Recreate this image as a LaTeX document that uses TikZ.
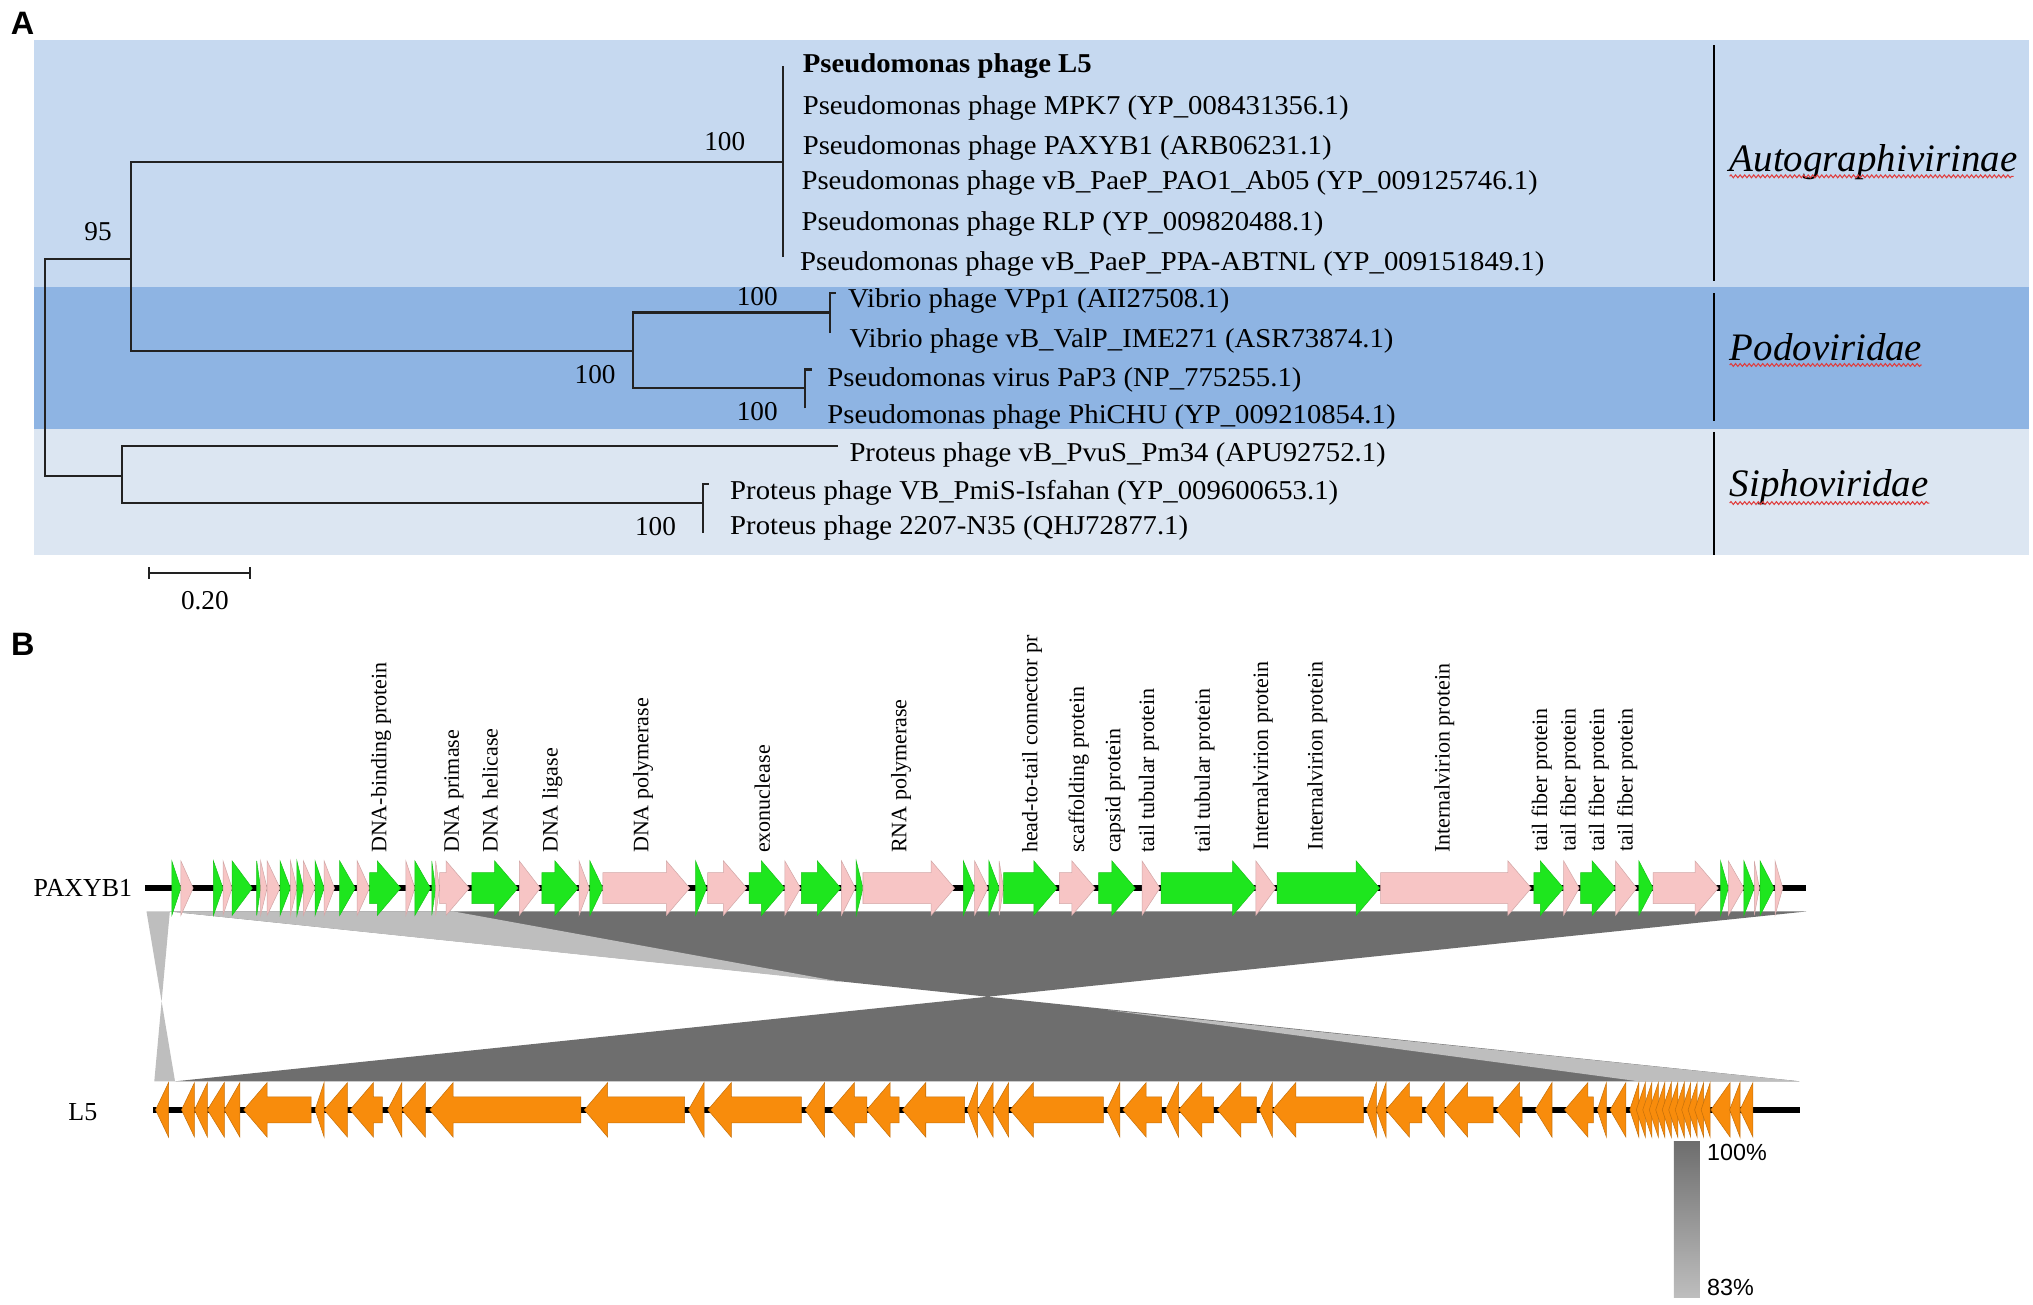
\documentclass[tikz,border=0pt]{standalone}
\usepackage{fontspec}
\setmainfont{Liberation Serif}
\newfontfamily\arialf{Liberation Sans}
\newfontfamily\treefont[FakeStretch=1.055]{Liberation Serif}
\usetikzlibrary{decorations.pathmorphing}
\definecolor{bandA}{HTML}{C6D9F0}
\definecolor{bandP}{HTML}{8EB4E3}
\definecolor{bandS}{HTML}{DCE6F2}
\definecolor{gG}{HTML}{1EE61E}
\definecolor{gP}{HTML}{F7C5C5}
\definecolor{gO}{HTML}{F88C0C}
\definecolor{simD}{HTML}{6E6E6E}
\definecolor{simL}{HTML}{BEBEBE}
\definecolor{squig}{HTML}{E03C3C}
\definecolor{treec}{HTML}{222222}
\newcommand{\pgene}[3]{%
  \pgfmathsetmacro{\gHB}{max(#1,#2-18)}%
  \filldraw[fill=#3, draw=#3!85!black, line width=0.4pt] (#1,673) -- (\gHB,673) -- (\gHB,664) -- (#2,685) -- (\gHB,706) -- (\gHB,697) -- (#1,697) -- cycle;}
\newcommand{\lgene}[2]{%
  \pgfmathsetmacro{\gHB}{min(#2,#1+18)}%
  \filldraw[fill=gO, draw=gO!80!black, line width=0.4pt] (#2,846) -- (\gHB,846) -- (\gHB,835) -- (#1,856) -- (\gHB,877) -- (\gHB,866) -- (#2,866) -- cycle;}
\tikzset{
  treelab/.style={anchor=base west, inner sep=0pt, font=\treefont\fontsize{21}{25}\selectfont},
  boot/.style={anchor=center, inner sep=0pt, font=\fontsize{21}{25}\selectfont},
  famlab/.style={anchor=base west, inner sep=0pt, font=\fontsize{30}{36}\selectfont\itshape},
  genelab/.style={rotate=90, anchor=west, inner sep=0pt, font=\fontsize{17}{20}\selectfont},
  tree/.style={draw=treec, line width=1.6pt},
  divider/.style={draw=black, line width=1.1pt},
  squiggle/.style={draw=squig, line width=0.8pt, decorate, decoration={snake, amplitude=1.1pt, segment length=3.5pt}},
  panlab/.style={anchor=center, inner sep=0pt, font=\arialf\bfseries\fontsize{25}{30}\selectfont},
  pct/.style={anchor=west, inner sep=0pt, font=\arialf\fontsize{18}{22}\selectfont}
}
\begin{document}
\begin{tikzpicture}[x=1pt,y=-1pt]
\useasboundingbox (0,0) rectangle (1568,1006);
\fill[white] (0,0) rectangle (1568,1006);
% ---------- Panel A ----------
\node[panlab] (labA) at (17.5,18) {A};
\fill[bandA] (26,31) rectangle (1565,221);
\fill[bandP] (26,221) rectangle (1565,331);
\fill[bandS] (26,331) rectangle (1565,428);
\draw[divider] (1322,35) -- (1322,217);
\draw[divider] (1322,226) -- (1322,325);
\draw[divider] (1322,333) -- (1322,428);
% tree coordinates
\coordinate (rt) at (35,200);
\coordinate (n1) at (101,200);
\coordinate (n2) at (604,125);
\coordinate (n2t) at (604,51);
\coordinate (n2b) at (604,198);
\coordinate (n3) at (488,271);
\coordinate (n4) at (640,241);
\coordinate (n4t) at (640,226);
\coordinate (n4b) at (640,257);
\coordinate (n5) at (621,299);
\coordinate (n5t) at (621,285);
\coordinate (n5b) at (621,315);
\coordinate (n6) at (94,367);
\coordinate (l13) at (646,344);
\coordinate (n7) at (542,388);
\coordinate (n7t) at (542,373);
\coordinate (n7b) at (542,411);
\draw[tree] (n2) -| (n1) |- (n3);
\draw[tree] (n1) -- (rt) |- (n6);
\draw[tree] (n2t) -- (n2b);
\draw[tree] (n4) -| (n3) |- (n5);
\draw[tree] (n4b) -- (n4t) -- ++(5,0);
\draw[tree] (n5b) -- (n5t) -- ++(5,0);
\draw[tree] (l13) -| (n6) |- (n7);
\draw[tree] (n7b) -- (n7t) -- ++(5,0);
% leaf labels
\node[treelab, font=\treefont\fontsize{21}{25}\selectfont\bfseries] (t1) at (619,56) {Pseudomonas phage L5};
\node[treelab] (t2) at (619,88) {Pseudomonas phage MPK7 (YP\_008431356.1)};
\node[treelab] (t3) at (619,119) {Pseudomonas phage PAXYB1 (ARB06231.1)};
\node[treelab] (t4) at (618,146) {Pseudomonas phage vB\_PaeP\_PAO1\_Ab05 (YP\_009125746.1)};
\node[treelab] (t5) at (618,178) {Pseudomonas phage RLP (YP\_009820488.1)};
\node[treelab] (t6) at (617,209) {Pseudomonas phage vB\_PaeP\_PPA-ABTNL (YP\_009151849.1)};
\node[treelab] (t7) at (654,237) {Vibrio phage VPp1 (AII27508.1)};
\node[treelab] (t8) at (655,268) {Vibrio phage vB\_ValP\_IME271 (ASR73874.1)};
\node[treelab] (t9) at (638,298) {Pseudomonas virus PaP3 (NP\_775255.1)};
\node[treelab] (t10) at (638,327) {Pseudomonas phage PhiCHU (YP\_009210854.1)};
\node[treelab] (t11) at (655,356) {Proteus phage vB\_PvuS\_Pm34 (APU92752.1)};
\node[treelab] (t12) at (563,385) {Proteus phage VB\_PmiS-Isfahan (YP\_009600653.1)};
\node[treelab] (t13) at (563,412) {Proteus phage 2207-N35 (QHJ72877.1)};
% bootstrap
\node[boot] (b1) at (559,109) {100};
\node[boot] (b2) at (75.6,179) {95};
\node[boot] (b3) at (584,228.8) {100};
\node[boot] (b4) at (459,289) {100};
\node[boot] (b5) at (584,317.5) {100};
\node[boot] (b6) at (505.6,406) {100};
% families
\node[famlab] (fA) at (1334,132.4) {Autographivirinae};
\node[famlab] (fP) at (1334,277.7) {Podoviridae};
\node[famlab] (fS) at (1334,383) {Siphoviridae};
\draw[squiggle] (1334,136) -- (1553,136);
\draw[squiggle] (1334,281.5) -- (1482,281.5);
\draw[squiggle] (1334,388) -- (1488,388);
% scale bar
\coordinate (sb1) at (115,442);
\coordinate (sb2) at (193,442);
\draw[treec, line width=1.4pt] (sb1) -- (sb2);
\draw[treec, line width=1.4pt] (115,437.5) -- (115,446.5);
\draw[treec, line width=1.4pt] (193,437.5) -- (193,446.5);
\node[boot] (sbl) at (158,463) {0.20};
% ---------- Panel B ----------
\node[panlab] (labB) at (17.7,497) {B};
% similarity
\fill[simL] (113,703) -- (131,703) -- (119,834) -- (135,834) -- cycle;
\fill[simD] (131,703) -- (1393,703) -- (135,834) -- (1388,834) -- cycle;
\fill[simL] (131,703) -- (350,703) -- (650,757.5) -- cycle;
\fill[simL] (854,779) -- (1388,834) -- (1264,834) -- cycle;
% genome lines
\coordinate (pa1) at (112,685);
\coordinate (pa2) at (1393,685);
\coordinate (l51) at (118,856);
\coordinate (l52) at (1388,856);
\draw[black, line width=5pt] (pa1) -- (pa2);
\draw[black, line width=5pt] (l51) -- (l52);
\node[anchor=west, inner sep=0pt, font=\fontsize{20}{24}\selectfont] (pax) at (25.8,685) {PAXYB1};
\node[anchor=west, inner sep=0pt, font=\fontsize{20}{24}\selectfont] (l5) at (52.6,858) {L5};
% PAXYB1 genes
\foreach \a/\b/\c in {132.5/139.5/gG, 139.5/149/gP, 164.6/172/gG, 172/179/gP, 179/194.6/gG, 198/201/gG, 201/206/gP, 206/216/gP, 216/224/gG, 224/229/gP, 229/234/gG, 234/243/gP, 243/250/gG, 250/258/gP, 262/274/gG, 275.5/285/gP, 285/309/gG, 313/320/gP, 320/332/gG, 333/336/gG, 336/339/gP, 339/362/gP, 364/399.5/gG, 400.5/416.7/gP, 418/446/gG, 446.6/454.5/gP, 455/465/gG, 465/532/gP, 536.5/545/gG, 545.8/576/gP, 577.8/605.3/gG, 605.3/617.4/gP, 618/648.4/gG, 649/659.7/gP, 660.4/665.6/gG, 665.6/736.2/gP, 743/751.7/gG, 751.7/762/gP, 762.7/770.6/gG, 770.6/774/gP, 774/815.4/gG, 817/844.7/gP, 847.4/875.6/gG, 880.8/894.6/gP, 895.6/968.6/gG, 968.6/984/gP, 985/1064/gG, 1064.8/1181/gP, 1183/1206/gG, 1206/1218/gP, 1219/1246/gG, 1246/1262.4/gP, 1264/1275/gG, 1275/1325.3/gP, 1327/1333/gG, 1333/1345/gP, 1345/1353/gG, 1353/1357/gP, 1357.5/1368.3/gG, 1369/1375/gP}
  {\pgene{\a}{\b}{\c}}
% L5 genes
\foreach \a/\b in {120/130, 140/150, 150/160, 160/173, 173/185, 188/240, 243/250, 250/268, 270/295, 299/310, 310/328, 331.5/448, 450.7/528, 531/543, 546/618, 621/636, 641/668.5, 668.5/693.5, 696/744, 746/754, 754/766, 766/778, 779/851, 853.7/863.7, 866/896, 899/909, 909/936, 939/969, 971.4/981.4, 981.4/1051.5, 1054/1061.5, 1061.5/1069, 1069/1096.6, 1099/1114, 1114/1151.6, 1154/1174, 1184/1197, 1206.7/1229, 1232/1239, 1241.8/1254, 1257/1264, 1262/1269, 1267/1274, 1272/1279, 1277/1284, 1282/1289, 1287/1294, 1292/1299, 1297/1304, 1302/1309, 1307/1314, 1312/1319, 1319.5/1334.4, 1334/1342, 1342/1352}
  {\lgene{\a}{\b}}
% gene labels
\node[genelab] (g1) at (294,658) {DNA-binding protein};
\node[genelab] (g2) at (350,658) {DNA primase};
\node[genelab] (g3) at (378,658) {DNA helicase};
\node[genelab] (g4) at (426,658) {DNA ligase};
\node[genelab] (g5) at (496,658) {DNA polymerase};
\node[genelab] (g6) at (588,658) {exonuclease};
\node[genelab] (g7) at (695,658) {RNA polymerase};
\begin{scope}
\clip (770,489) rectangle (820,665);
\node[genelab] (g8) at (796,658) {head-to-tail connector protein};
\end{scope}
\node[genelab] (g9) at (832,658) {scaffolding protein};
\node[genelab] (g10) at (860,658) {capsid protein};
\node[genelab] (g11) at (886,658) {tail tubular protein};
\node[genelab] (g12) at (929,658) {tail tubular protein};
\node[genelab] (g13) at (974,656) {Internalvirion protein};
\node[genelab] (g14) at (1016,656) {Internalvirion protein};
\node[genelab] (g15) at (1114,658) {Internalvirion protein};
\node[genelab] (g16) at (1189,657) {tail fiber protein};
\node[genelab] (g17) at (1211,657) {tail fiber protein};
\node[genelab] (g18) at (1233,657) {tail fiber protein};
\node[genelab] (g19) at (1255,657) {tail fiber protein};
% identity scale
\shade[top color=simD, bottom color=simL] (1291,880.5) rectangle (1311,1001);
\node[pct] (p100) at (1316.5,889) {100\%};
\node[pct] (p83) at (1316.5,993) {83\%};
\end{tikzpicture}
\end{document}
